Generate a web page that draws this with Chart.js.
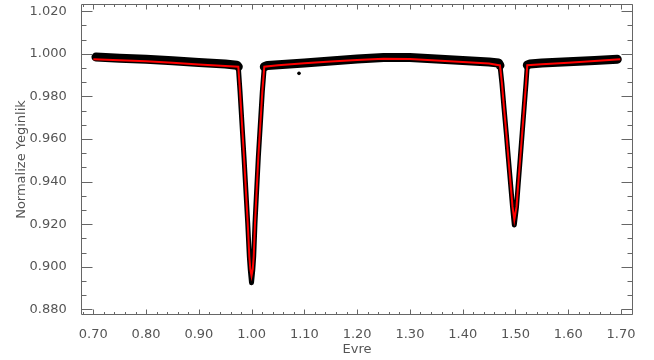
<!DOCTYPE html>
<html>
<head>
<meta charset="utf-8">
<script src="https://cdn.jsdelivr.net/npm/chart.js@4.4.1/dist/chart.umd.min.js"></script>
<style>
  html, body { margin: 0; padding: 0; background: #fff; }
  canvas { display: block; }
</style>
</head>
<body>
<canvas id="lc" width="654" height="360"></canvas>
<script>
// tick labels
var xTicks = [0.70, 0.80, 0.90, 1.00, 1.10, 1.20, 1.30, 1.40, 1.50, 1.60, 1.70];
var yTicks = [0.880, 0.900, 0.920, 0.940, 0.960, 0.980, 1.000, 1.020];

// model light curve (red)
var modelPhase = [0.700, 0.750, 0.800, 0.850, 0.900, 0.950, 0.9748, 0.9780, 0.9856, 0.9926, 0.9956, 0.9975, 0.9998,
  1.0022, 1.0040, 1.0064, 1.0127, 1.0203, 1.0240, 1.050, 1.100, 1.150, 1.200, 1.250, 1.300, 1.350, 1.400, 1.450,
  1.4707, 1.4743, 1.4783, 1.4825, 1.4864, 1.4912, 1.4944, 1.4978, 1.5020, 1.5048, 1.5092, 1.5128, 1.5164, 1.5200,
  1.5224, 1.550, 1.600, 1.650, 1.6986];
var modelFlux = [0.99745, 0.99694, 0.99648, 0.99578, 0.99499, 0.99425, 0.99393, 0.98234, 0.95141, 0.92049, 0.90506, 0.89903, 0.89578,
  0.89903, 0.90506, 0.92049, 0.95141, 0.98234, 0.99393, 0.99462, 0.99555, 0.99638, 0.99708, 0.99764, 0.99754, 0.99685, 0.99611, 0.99546,
  0.99453, 0.98618, 0.97459, 0.96300, 0.95141, 0.93751, 0.92823, 0.92207, 0.92823, 0.93751, 0.95141, 0.96300, 0.97459, 0.98618,
  0.99467, 0.99509, 0.99583, 0.99662, 0.99745];

// observations (black band)
var obsPhase = [0.705, 0.750, 0.800, 0.850, 0.900, 0.950, 0.972, 0.9748, 0.9780, 0.9856, 0.9926, 0.9956, 0.9975, 0.9998,
  1.0022, 1.0040, 1.0064, 1.0127, 1.0203, 1.0240, 1.030, 1.100, 1.150, 1.200, 1.250, 1.300, 1.350, 1.400, 1.450, 1.468,
  1.4707, 1.4743, 1.4783, 1.4825, 1.4864, 1.4912, 1.4944, 1.4978, 1.5020, 1.5048, 1.5092, 1.5128, 1.5164, 1.5200,
  1.5224, 1.527, 1.550, 1.600, 1.650, 1.693];
var obsFlux = [0.99847, 0.99791, 0.99740, 0.99675, 0.99592, 0.99522, 0.99467, 0.99393, 0.98234, 0.95141, 0.92049, 0.90506, 0.8985, 0.89254,
  0.8985, 0.90506, 0.92049, 0.95141, 0.98234, 0.99393, 0.99453, 0.99569, 0.99662, 0.99754, 0.99824, 0.99824, 0.99754, 0.99685, 0.99615, 0.99569,
  0.99453, 0.98618, 0.97459, 0.96300, 0.95141, 0.93751, 0.92823, 0.91966, 0.92823, 0.93751, 0.95141, 0.96300, 0.97459, 0.98618,
  0.99467, 0.99522, 0.99569, 0.99629, 0.99685, 0.99740];

// stray point
var outPhase = [1.0898];
var outFlux = [0.99082];

function pts(xs, ys) {
  return xs.map(function(x, i) { return {x: x, y: ys[i]}; });
}

var axisColor = '#666';
var textColor = '#555';
var font = {family: 'DejaVu Sans', size: 13};

// IDL style frame with inward ticks
var frame = {
  id: 'frame',
  afterDraw: function(chart) {
    var ctx = chart.ctx, a = chart.chartArea;
    var xs = chart.scales.x, ys = chart.scales.y;
    var L = Math.round(a.left) + 0.5, R = Math.round(a.right) - 0.5;
    var T = Math.round(a.top) + 0.5, B = Math.round(a.bottom) - 0.5;
    ctx.save();
    ctx.strokeStyle = axisColor;
    ctx.lineWidth = 1;
    ctx.beginPath();
    ctx.rect(L, T, R - L, B - T);
    var i, k, v, p;
    // x ticks
    var xm = [];
    for (i = -1; i < xTicks.length; i++) {
      for (k = 1; k < 5; k++) {
        v = (i < 0 ? xTicks[0] - 0.1 : xTicks[i]) + k * 0.02;
        if (v > xs.min && v < xs.max) xm.push(v);
      }
    }
    xTicks.forEach(function(v) {
      p = Math.round(xs.getPixelForValue(v)) + 0.5;
      ctx.moveTo(p, B); ctx.lineTo(p, B - 5);
      ctx.moveTo(p, T); ctx.lineTo(p, T + 5);
    });
    xm.forEach(function(v) {
      p = Math.round(xs.getPixelForValue(v)) + 0.5;
      ctx.moveTo(p, B); ctx.lineTo(p, B - 2.5);
      ctx.moveTo(p, T); ctx.lineTo(p, T + 2.5);
    });
    // y ticks
    yTicks.forEach(function(v, j) {
      p = Math.round(ys.getPixelForValue(v)) + 0.5;
      ctx.moveTo(L, p); ctx.lineTo(L + 11, p);
      ctx.moveTo(R, p); ctx.lineTo(R - 11, p);
      if (j < yTicks.length - 1) {
        for (k = 1; k < 3; k++) {
          var q = Math.round(ys.getPixelForValue(v + k * 0.02 / 3)) + 0.5;
          ctx.moveTo(L, q); ctx.lineTo(L + 5, q);
          ctx.moveTo(R, q); ctx.lineTo(R - 5, q);
        }
      }
    });
    ctx.stroke();
    ctx.restore();
  }
};

new Chart(document.getElementById('lc').getContext('2d'), {
  type: 'line',
  data: {
    datasets: [{
      label: 'model',
      data: pts(modelPhase, modelFlux),
      borderColor: '#ff0000',
      borderWidth: 2,
      pointRadius: 0,
      tension: 0,
      order: 1
    }, {
      label: 'obs',
      data: pts(obsPhase, obsFlux),
      borderColor: '#000',
      borderWidth: 5,
      borderCapStyle: 'round',
      borderJoinStyle: 'round',
      pointRadius: 0,
      tension: 0,
      order: 2,
      segment: {
        borderWidth: function(c) {
          return (c.p0.parsed.y > 0.9935 && c.p1.parsed.y > 0.9935) ? 9 : 5;
        }
      }
    }, {
      label: 'stray',
      data: pts(outPhase, outFlux),
      showLine: false,
      pointRadius: 1.8,
      pointBackgroundColor: '#000',
      pointBorderWidth: 0,
      order: 3
    }]
  },
  options: {
    responsive: false,
    animation: false,
    events: [],
    layout: {padding: {left: 0, right: 20.7, top: 0, bottom: 0}},
    plugins: {legend: {display: false}, tooltip: {enabled: false}},
    scales: {
      x: {
        type: 'linear',
        min: 0.6761,
        max: 1.7233,
        grid: {display: false},
        border: {display: false},
        afterBuildTicks: function(s) { s.ticks = xTicks.map(function(v) { return {value: v}; }); },
        afterFit: function(s) { s.height = 45; s.paddingLeft = 0; s.paddingRight = 0; },
        ticks: {
          color: textColor, font: font, padding: 4, maxRotation: 0, autoSkip: false,
          callback: function(v) { return v.toFixed(2); }
        },
        title: {display: true, text: 'Evre', color: textColor, font: font, padding: {top: 0, bottom: 3}}
      },
      y: {
        min: 0.87736,
        max: 1.02338,
        grid: {display: false},
        border: {display: false},
        afterBuildTicks: function(s) { s.ticks = yTicks.map(function(v) { return {value: v}; }); },
        afterFit: function(s) { s.width = 80.7; s.paddingTop = 0; s.paddingBottom = 0; },
        ticks: {
          color: textColor, font: font, padding: 6, autoSkip: false,
          callback: function(v) { return v.toFixed(3); }
        },
        title: {display: true, text: 'Normalize Yeginlik', color: textColor, font: font, padding: {top: 14, bottom: 0}}
      }
    }
  },
  plugins: [frame]
});
</script>
</body>
</html>
